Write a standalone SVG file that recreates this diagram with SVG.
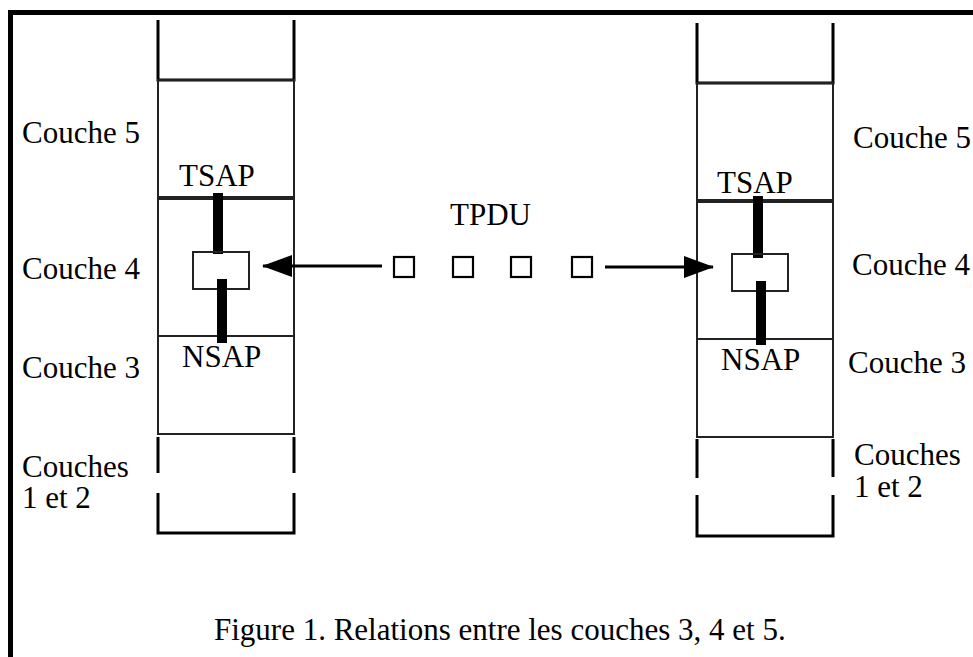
<svg xmlns="http://www.w3.org/2000/svg" width="973" height="657" viewBox="0 0 973 657">
<style>
text{font-family:"Liberation Serif","Times New Roman",serif;font-size:31px;fill:#000}
.frame{stroke:#000;stroke-width:5;fill:none}
.stub{stroke:#000;stroke-width:3;fill:none}
.box{stroke:#222;stroke-width:2;fill:none}
.bar{fill:#000}
.sq{stroke:#000;stroke-width:2.2;fill:#fff}
.conn{stroke:#000;stroke-width:3;fill:none}
</style>
<defs>
<marker id="ah" markerWidth="30" markerHeight="22" refX="29" refY="11" orient="auto" markerUnits="userSpaceOnUse">
<path d="M0,0 L30,11 L0,22 Z" fill="#000"/>
</marker>
</defs>
<rect width="973" height="657" fill="#fff"/>
<g id="frame">
<line class="frame" x1="8" y1="12.5" x2="973" y2="12.5"/>
<line class="frame" x1="10.5" y1="10" x2="10.5" y2="657"/>
</g>
<g id="left-stack">
<path class="stub" d="M158,20 V80 H294 V20"/>
<rect class="box" x="158" y="80" width="136" height="117"/>
<rect class="box" x="158" y="199" width="136" height="137"/>
<rect class="box" x="158" y="336" width="136" height="98"/>
<path class="stub" d="M158,437 V473 M294,437 V473 M158,493 V533 H294 V493"/>
<rect class="bar" x="213" y="193" width="10" height="61"/>
<rect class="box" x="193" y="252" width="56" height="37"/>
<rect class="bar" x="217" y="279" width="10" height="64"/>
<text x="22" y="143">Couche 5</text>
<text x="179" y="186">TSAP</text>
<text x="22" y="279">Couche 4</text>
<text x="182" y="367">NSAP</text>
<text x="22" y="378">Couche 3</text>
<text x="22" y="477">Couches</text>
<text x="22" y="508">1 et 2</text>
</g>
<g id="right-stack">
<path class="stub" d="M697,23 V83 H833 V23"/>
<rect class="box" x="697" y="83" width="136" height="117"/>
<rect class="box" x="697" y="202" width="136" height="137"/>
<rect class="box" x="697" y="339" width="136" height="98"/>
<path class="stub" d="M697,439 V478 M833,439 V477 M697,495 V536 H833 V495"/>
<rect class="bar" x="753" y="196" width="10" height="62"/>
<rect class="box" x="732" y="254" width="56" height="37"/>
<rect class="bar" x="756" y="281" width="10" height="64"/>
<text x="853" y="148">Couche 5</text>
<text x="717" y="193">TSAP</text>
<text x="852" y="275">Couche 4</text>
<text x="721" y="370">NSAP</text>
<text x="848" y="373">Couche 3</text>
<text x="854" y="465">Couches</text>
<text x="854" y="497">1 et 2</text>
</g>
<g id="tpdu">
<text x="450" y="225">TPDU</text>
<rect class="sq" x="394" y="257" width="20" height="20"/>
<rect class="sq" x="453" y="257" width="20" height="20"/>
<rect class="sq" x="511" y="257" width="20" height="20"/>
<rect class="sq" x="572" y="257" width="20" height="20"/>
</g>
<g id="connectors">
<line class="conn" x1="382" y1="266" x2="263" y2="266" marker-end="url(#ah)"/>
<line class="conn" x1="605" y1="267" x2="713" y2="267" marker-end="url(#ah)"/>
</g>
<g id="caption">
<text x="214" y="640">Figure 1. Relations entre les couches 3, 4 et 5.</text>
</g>
</svg>
